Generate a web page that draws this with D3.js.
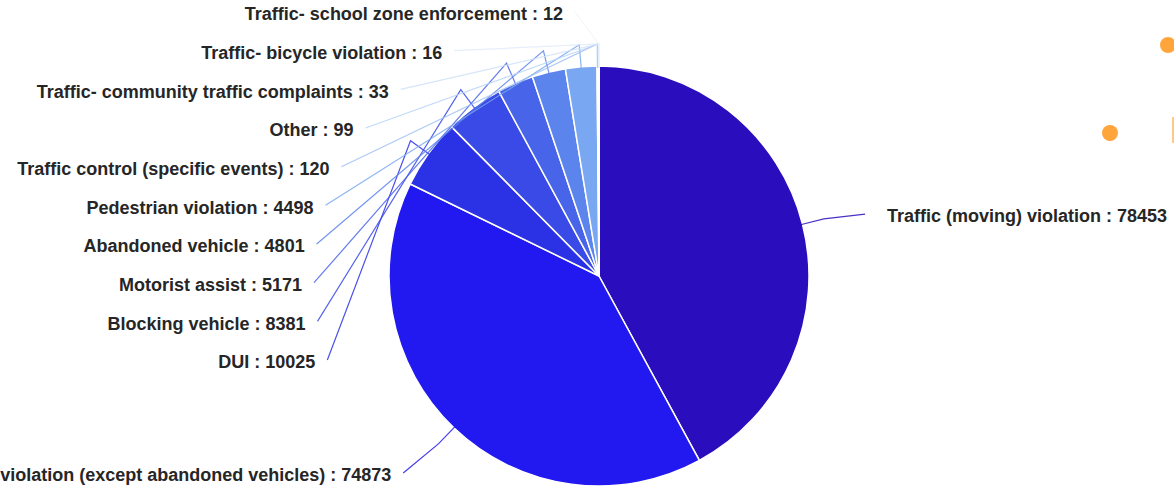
<!DOCTYPE html>
<html>
<head>
<meta charset="utf-8">
<script src="https://cdn.jsdelivr.net/npm/d3@7"></script>
<style>
  html, body { margin: 0; padding: 0; background: #fff; }
  svg { display: block; }
  .lbl { font-family: "Liberation Sans", Arial, sans-serif; font-weight: bold; font-size: 18px; fill: #262626; }
</style>
</head>
<body>
<svg id="chart" width="1174" height="488"></svg>
<script>
// Traffic-related call categories and their counts
const categories = [
  "Traffic (moving) violation",
  "Parking violation (except abandoned vehicles)",
  "DUI",
  "Blocking vehicle",
  "Motorist assist",
  "Abandoned vehicle",
  "Pedestrian violation",
  "Traffic control (specific events)",
  "Other",
  "Traffic- community traffic complaints",
  "Traffic- bicycle violation",
  "Traffic- school zone enforcement"
];
const counts = [78453, 74873, 10025, 8381, 5171, 4801, 4498, 120, 99, 33, 16, 12];
const sliceColors = [
  "#2a0dbd", "#2219f0", "#2b31e4", "#3a4ae6", "#4864e9", "#5b84ed",
  "#79a7f1", "#9dc0f4", "#b9d3f6", "#cfe0f8", "#e0ebfa", "#eef4fc"
];

const svg = d3.select("#chart");
const cx = 599, cy = 276, R = 210;

// decorative bullets at the right edge
svg.append("circle").attr("cx", 1168).attr("cy", 45).attr("r", 8).attr("fill", "#ffa53c");
svg.append("circle").attr("cx", 1110).attr("cy", 133).attr("r", 8).attr("fill", "#ffa53c");
svg.append("rect").attr("x", 1172).attr("y", 117).attr("width", 2).attr("height", 26).attr("fill", "#ffc98a");

const data = categories.map((c, i) => ({ name: c, value: counts[i], color: sliceColors[i], idx: i }));

const pie = d3.pie().value(d => d.value).sort(null);
const arcs = pie(data);
const arc = d3.arc().innerRadius(0).outerRadius(R);

const g = svg.append("g").attr("transform", `translate(${cx},${cy})`);

// label layout: labels sit on an ellipse around the pie
const labCy = 282 - cy;            // ellipse centre offset (relative to pie centre)
const labA = 297, labB = 270;      // ellipse half-axes
const labR = 267;                  // radius for natural label height
const step = 38.67;                // minimum vertical spacing between labels
const topY = 14 - cy;              // highest allowed label centre
const botY = 478 - cy;

const polar = (ang, r) => [r * Math.sin(ang), -r * Math.cos(ang)];

const items = arcs.map(a => {
  const mid = (a.startAngle + a.endAngle) / 2;
  return {
    a, mid,
    side: Math.sin(mid) >= 0 ? 1 : -1,
    y: labCy - labR * Math.cos(mid)
  };
});

function layoutSide(list) {
  list.sort((p, q) => p.y - q.y);
  // build clusters of overlapping labels, each centred on its members' mean height
  let clusters = list.map(it => ({ items: [it], mean: it.y }));
  let merged = true;
  while (merged) {
    merged = false;
    for (let i = 0; i < clusters.length - 1; i++) {
      const c1 = clusters[i], c2 = clusters[i + 1];
      const top1 = c1.mean - (c1.items.length - 1) * step / 2;
      const bot1 = top1 + (c1.items.length - 1) * step;
      const top2 = c2.mean - (c2.items.length - 1) * step / 2;
      if (top2 - bot1 < step) {
        const its = c1.items.concat(c2.items);
        clusters.splice(i, 2, { items: its, mean: d3.mean(its, d => d.y) });
        merged = true;
        break;
      }
    }
  }
  clusters.forEach(c => {
    let start = c.mean - (c.items.length - 1) * step / 2;
    const end = start + (c.items.length - 1) * step;
    if (start < topY) start = topY;
    else if (end > botY) start -= end - botY;
    c.items.forEach((it, k) => { it.ly = start + k * step; });
  });
}
layoutSide(items.filter(d => d.side < 0));
layoutSide(items.filter(d => d.side > 0));

items.forEach(it => {
  const dy = (it.ly - labCy) / labB;
  const dx = labA * Math.sqrt(Math.max(0, 1 - dy * dy));
  it.lx = it.side * dx;
});

// slices
g.selectAll("path.slice")
  .data(arcs)
  .join("path")
  .attr("class", "slice")
  .attr("d", arc)
  .attr("fill", d => d.data.color)
  .attr("stroke", "#fff")
  .attr("stroke-width", 1.5)
  .attr("stroke-linejoin", "round");

// leader lines: radial stub out of the slice, then across to the label
const line = d3.line();
g.selectAll("path.leader")
  .data(items)
  .join("path")
  .attr("class", "leader")
  .attr("d", it => {
    const p0 = polar(it.mid, R - 2);
    const p1 = polar(it.mid, R + 22);
    const gap = it.side > 0 ? 22 : 12;
    const p2 = [it.lx - it.side * gap, it.ly - 2];
    return line([p0, p1, p2]);
  })
  .attr("fill", "none")
  .attr("stroke", it => it.a.data.color)
  .attr("stroke-opacity", 0.85)
  .attr("stroke-width", 1.2);

// labels
g.selectAll("text.lbl")
  .data(items)
  .join("text")
  .attr("class", "lbl")
  .attr("x", it => it.lx)
  .attr("y", it => it.ly)
  .attr("dy", "0.35em")
  .attr("text-anchor", it => it.side < 0 ? "end" : "start")
  .text(it => `${it.a.data.name} : ${it.a.data.value}`);
</script>
</body>
</html>
